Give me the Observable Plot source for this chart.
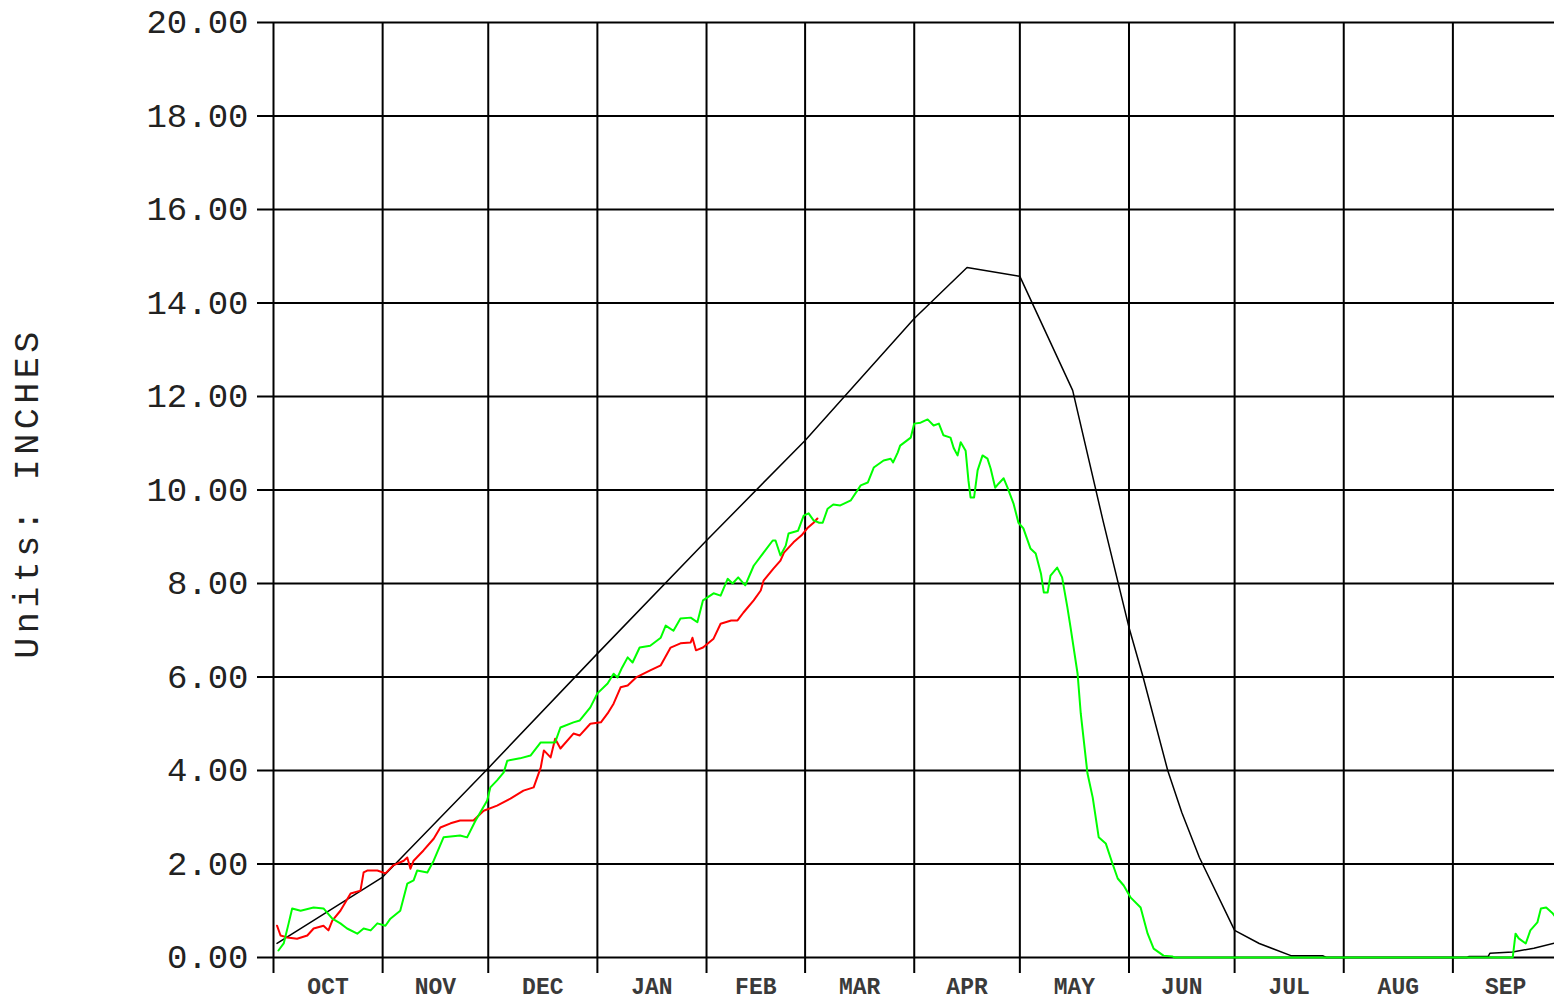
<!DOCTYPE html>
<html>
<head>
<meta charset="utf-8">
<script src="https://cdn.jsdelivr.net/npm/d3@7"></script>
<script src="https://cdn.jsdelivr.net/npm/@observablehq/plot@0.6"></script>
<style>
  html, body { margin: 0; padding: 0; background: #fff; overflow: hidden; }
  #chart svg { display: block; }
</style>
</head>
<body>
<div id="chart"></div>
<script>
// Water-year months (day index 0 = Oct 1)
const monthNames = ["OCT","NOV","DEC","JAN","FEB","MAR","APR","MAY","JUN","JUL","AUG","SEP"];
const monthStarts = [0,31,61,92,123,151,182,212,243,273,304,335];
const monthDays = [31,30,31,31,28,31,30,31,30,31,31,30];
const yTicks = [0,2,4,6,8,10,12,14,16,18,20];
const yLabel = "Units: INCHES";

// [day of water year, inches]
const medianSeries = [[1,0.3],[31,1.72],[61,4.05],[92,6.5],[123,8.92],[151,11.06],[182,13.67],[197,14.76],[212,14.57],[227,12.13],[235.6,9.35],[243,7.06],[247,6.0],[254,4.0],[258,3.1],[263,2.14],[273,0.58],[280,0.3],[289,0.04],[298,0.04],[299,0],[339,0],[339.5,0.02],[345,0.02],[345.5,0.09],[352,0.12],[358,0.2],[364.5,0.32]];

const currentSeries = [[1,0.68],[2,0.47],[3.9,0.43],[6.7,0.40],[9.6,0.47],[11.4,0.62],[14.2,0.68],[15.6,0.58],[16.7,0.79],[19,1.0],[21.9,1.37],[24.7,1.43],[25.6,1.82],[26.6,1.86],[29.5,1.86],[31.8,1.8],[34,1.97],[37,2.07],[38,2.14],[38.9,1.9],[39.8,2.07],[42.6,2.29],[45.5,2.54],[47.4,2.78],[50.3,2.87],[53,2.93],[56.8,2.93],[59.7,3.14],[63.5,3.25],[67.3,3.40],[71,3.57],[73.9,3.64],[75.9,4.06],[76.8,4.43],[78.7,4.28],[80,4.68],[81.5,4.47],[85.2,4.79],[87,4.75],[90,5.0],[93,5.03],[94.9,5.22],[96.6,5.43],[98.6,5.78],[100.6,5.82],[103,5.99],[107,6.14],[110,6.25],[112.8,6.63],[115.6,6.72],[118.5,6.74],[119,6.84],[120,6.57],[122,6.63],[125,6.82],[127,7.14],[130,7.21],[131.8,7.21],[133.5,7.38],[136.4,7.64],[138.4,7.85],[139.2,8.06],[142,8.32],[144,8.49],[145,8.66],[147.7,8.88],[150,9.03],[151.6,9.18],[153.4,9.3],[154.5,9.39]];

const previousSeries = [[1.4,0.15],[2.9,0.3],[4.3,0.73],[5.3,1.05],[7.7,1.0],[11.4,1.07],[14.2,1.05],[16.7,0.83],[19,0.73],[20.9,0.62],[23.8,0.51],[25.6,0.62],[27.6,0.58],[29.5,0.73],[31.8,0.68],[33.2,0.83],[36,1.0],[38,1.58],[39.8,1.65],[40.8,1.86],[43.7,1.82],[45.5,2.07],[48.3,2.57],[53,2.61],[55,2.57],[57.4,2.93],[60.7,3.36],[61.6,3.64],[63.5,3.79],[65.4,3.96],[66.4,4.21],[70,4.26],[73,4.32],[75.9,4.6],[80,4.6],[81.5,4.92],[85.2,5.03],[87,5.07],[90,5.35],[92,5.65],[94.9,5.86],[96.6,6.07],[97.7,5.99],[99,6.2],[100.6,6.42],[102,6.31],[104,6.63],[107,6.67],[110,6.84],[111.4,7.1],[113.6,6.99],[115.6,7.25],[118.5,7.27],[120.4,7.17],[122,7.64],[125,7.79],[127,7.74],[129,8.1],[130.4,8.0],[132,8.13],[134,7.96],[136.4,8.38],[139.2,8.66],[141.8,8.92],[142.6,8.92],[144,8.6],[145.5,8.81],[146.3,9.07],[149,9.13],[150.6,9.45],[152,9.5],[153.4,9.35],[155,9.3],[156,9.3],[157.4,9.6],[159,9.69],[161,9.67],[164,9.78],[166.8,10.1],[168.8,10.16],[170.5,10.48],[173.3,10.63],[175.3,10.67],[176,10.59],[177.3,10.8],[178,10.95],[181,11.12],[182,11.42],[183.8,11.44],[185.8,11.51],[187.5,11.38],[189,11.42],[190.3,11.17],[192.3,11.12],[193.2,10.9],[194.3,10.74],[195.2,11.02],[196.6,10.84],[197.4,10.2],[198,9.84],[199,9.84],[200,10.42],[201.4,10.74],[202.8,10.67],[203.7,10.46],[205,10.05],[206,10.14],[207.4,10.25],[208.5,10.05],[210.2,9.71],[211.6,9.3],[213,9.18],[215,8.75],[216.5,8.64],[218,8.21],[218.8,7.81],[219.9,7.81],[220.7,8.17],[222.6,8.34],[224,8.13],[225.5,7.49],[226.4,7.06],[228.4,6.07],[229.3,5.22],[231.2,3.94],[232.7,3.42],[234.4,2.57],[236.4,2.44],[238.3,2.01],[239.8,1.69],[241.5,1.54],[243.5,1.28],[246.3,1.07],[248.3,0.51],[250,0.19],[252.8,0.04],[255.4,0.02],[256,0],[352,0],[352.8,0.51],[353.7,0.41],[355.7,0.3],[357,0.58],[359,0.75],[360,1.05],[361.5,1.07],[363.4,0.94],[364.5,0.83]];

const monthMid = monthStarts.map((s, i) => s + monthDays[i] / 2);

const chart = Plot.plot({
  width: 1554,
  height: 1003,
  marginLeft: 273,
  marginRight: 0,
  marginTop: 22,
  marginBottom: 46,
  x: {domain: [0, 365], range: [273, 1558], axis: null},
  y: {domain: [0, 20], axis: null},
  style: {fontFamily: "'Liberation Mono', 'DejaVu Sans Mono', monospace", background: "#fff", color: "#000"},
  marks: [
    Plot.ruleY(yTicks, {stroke: "#000", strokeWidth: 2, insetLeft: -16}),
    Plot.ruleX(monthStarts, {y1: 20, y2: 0, stroke: "#000", strokeWidth: 2, insetBottom: -16}),
    Plot.axisY(yTicks, {tickSize: 0, tickPadding: 25, tickFormat: d3.format(".2f"), fontSize: 34, fill: "#222", label: null}),
    Plot.text(monthNames, {x: (d, i) => monthMid[i], frameAnchor: "bottom", dy: 36, fontSize: 23, fontWeight: "bold", fill: "#3a3a3a"}),
    Plot.text([yLabel], {frameAnchor: "left", textAnchor: "middle", rotate: -90, dx: -247, dy: 3, fontSize: 35, fill: "#222"}),
    Plot.line(medianSeries, {x: d => d[0], y: d => d[1], stroke: "#000", strokeWidth: 1.5}),
    Plot.line(currentSeries, {x: d => d[0], y: d => d[1], stroke: "#ff0000", strokeWidth: 2}),
    Plot.line(previousSeries, {x: d => d[0], y: d => d[1], stroke: "#00ff00", strokeWidth: 2})
  ]
});
chart.querySelectorAll("text").forEach(t => {
  if (t.textContent === yLabel) t.style.letterSpacing = "4.5px";
});
document.getElementById("chart").appendChild(chart);
</script>
</body>
</html>
